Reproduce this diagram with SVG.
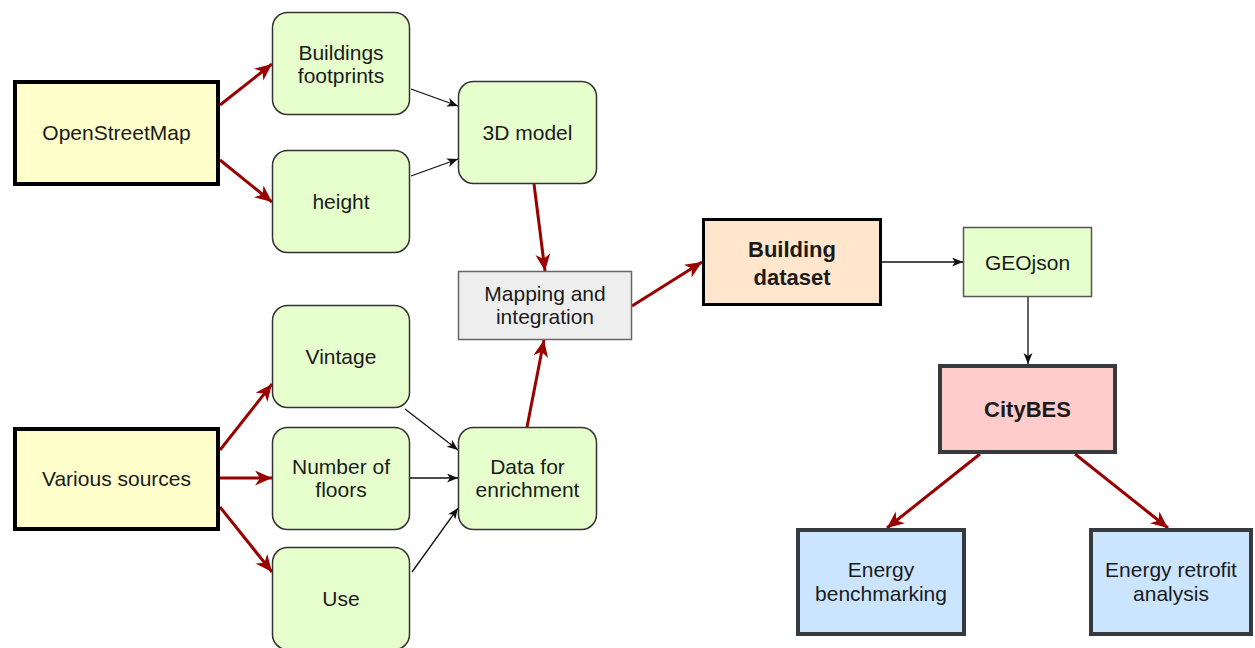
<svg xmlns="http://www.w3.org/2000/svg" width="1255" height="648" viewBox="0 0 1255 648">
<style>
text{font-family:"Liberation Sans",Arial,sans-serif;font-size:21px;fill:#1a1a1a;text-anchor:middle}
.b{font-weight:bold;font-size:22px}
.g{fill:#e6ffcc;stroke:#333;stroke-width:1.5}
.red{fill:none;stroke:#990000;stroke-width:3;marker-end:url(#ar)}
.blk{fill:none;stroke:#111;stroke-width:1.3;marker-end:url(#ab)}
</style>
<defs>
<marker id="ar" markerUnits="userSpaceOnUse" markerWidth="18" markerHeight="16" refX="17" refY="7.5" orient="auto"><path d="M0,0 L17,7.5 L0,15 L5,7.5 Z" fill="#990000"/></marker>
<marker id="ab" markerUnits="userSpaceOnUse" markerWidth="12" markerHeight="10" refX="11" refY="4.5" orient="auto"><path d="M0,0 L11,4.5 L0,9 L3,4.5 Z" fill="#111"/></marker>
</defs>
<rect width="1255" height="648" fill="#fff"/>
<g id="connectors">
<line class="red" x1="220" y1="105" x2="272" y2="64"/>
<line class="red" x1="220" y1="160" x2="272" y2="202"/>
<line class="blk" x1="411" y1="89" x2="458" y2="106"/>
<line class="blk" x1="411" y1="176" x2="458" y2="159"/>
<line class="red" x1="534" y1="184" x2="545" y2="271"/>
<line class="red" x1="527" y1="427" x2="544" y2="340"/>
<line class="red" x1="632" y1="306" x2="702" y2="262"/>
<line class="red" x1="220" y1="450" x2="272" y2="384"/>
<line class="red" x1="220" y1="478" x2="272" y2="478"/>
<line class="red" x1="220" y1="507" x2="272" y2="572"/>
<line class="blk" x1="405" y1="409" x2="458" y2="450"/>
<line class="blk" x1="410" y1="478" x2="458" y2="478"/>
<line class="blk" x1="412" y1="572" x2="458" y2="508"/>
<line class="blk" x1="882" y1="262" x2="963" y2="262"/>
<line class="blk" x1="1028" y1="297" x2="1028" y2="364"/>
<line class="red" x1="980" y1="454" x2="887" y2="528"/>
<line class="red" x1="1075" y1="454" x2="1168" y2="528"/>
</g>
<g id="osm"><rect x="15" y="82" width="203" height="102" fill="#ffffcc" stroke="#000" stroke-width="4"/><text x="116.5" y="140">OpenStreetMap</text></g>
<g id="footprints"><rect class="g" x="272.5" y="12.5" width="137" height="102" rx="15"/><text x="341" y="60">Buildings</text><text x="341" y="83">footprints</text></g>
<g id="height"><rect class="g" x="272.5" y="150.5" width="137" height="102" rx="15"/><text x="341" y="209">height</text></g>
<g id="model3d"><rect class="g" x="458.5" y="81.5" width="138" height="102" rx="15"/><text x="527.5" y="140">3D model</text></g>
<g id="mapping"><rect x="458.5" y="271.5" width="173" height="68" fill="#eeeeee" stroke="#666" stroke-width="1.5"/><text x="545" y="301">Mapping and</text><text x="545" y="324">integration</text></g>
<g id="dataset"><rect x="703.5" y="219.5" width="177" height="85" fill="#ffe6cc" stroke="#000" stroke-width="3"/><text class="b" x="792" y="257">Building</text><text class="b" x="792" y="285">dataset</text></g>
<g id="geojson"><rect x="963.5" y="227.5" width="128" height="69" fill="#e6ffcc" stroke="#555" stroke-width="1.5"/><text x="1027.5" y="270">GEOjson</text></g>
<g id="citybes"><rect x="940" y="366" width="175" height="86" fill="#ffcccc" stroke="#36393d" stroke-width="4"/><text class="b" x="1027.5" y="417">CityBES</text></g>
<g id="benchmarking"><rect x="798" y="530" width="166" height="104" fill="#cce5ff" stroke="#36393d" stroke-width="4"/><text x="881" y="577">Energy</text><text x="881" y="601">benchmarking</text></g>
<g id="retrofit"><rect x="1091" y="530" width="160" height="104" fill="#cce5ff" stroke="#36393d" stroke-width="4"/><text x="1171" y="577">Energy retrofit</text><text x="1171" y="601">analysis</text></g>
<g id="various"><rect x="15" y="429" width="203" height="100" fill="#ffffcc" stroke="#000" stroke-width="4"/><text x="116.5" y="486">Various sources</text></g>
<g id="vintage"><rect class="g" x="272.5" y="305.5" width="137" height="102" rx="15"/><text x="341" y="364">Vintage</text></g>
<g id="floors"><rect class="g" x="272.5" y="427.5" width="137" height="102" rx="15"/><text x="341" y="474">Number of</text><text x="341" y="497">floors</text></g>
<g id="use"><rect class="g" x="272.5" y="547.5" width="137" height="102" rx="15"/><text x="341" y="606">Use</text></g>
<g id="enrichment"><rect class="g" x="458.5" y="427.5" width="138" height="102" rx="15"/><text x="527.5" y="474">Data for</text><text x="527.5" y="497">enrichment</text></g>
</svg>
